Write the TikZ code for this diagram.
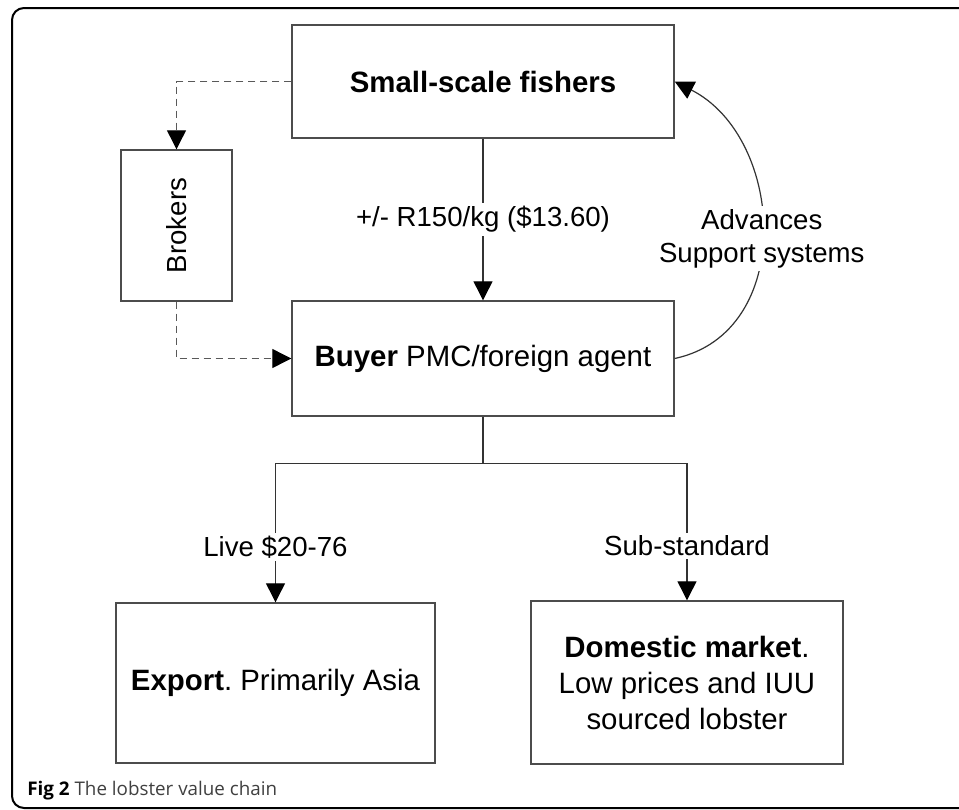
\documentclass[tikz,border=0pt]{standalone}
\usepackage{fontspec}
\setmainfont{Liberation Sans}
\newfontfamily\capfont{Open Sans}
\usetikzlibrary{arrows.meta}
\frenchspacing

\tikzset{
  box/.style={draw=black!70, line width=0.7pt, inner sep=0pt, align=center,
    font=\fontsize{14.7}{18}\selectfont},
  flow/.style={draw=black!80, line width=0.6pt, -{Triangle[length=9.5pt,width=9.5pt,color=black]}},
  dflow/.style={flow, draw=black!65, dash pattern=on 3.5pt off 2.5pt},
  plain/.style={draw=black!80, line width=0.6pt},
  lbl/.style={fill=white, inner sep=1.5pt, align=center,
    font=\fontsize{13.8}{16.5}\selectfont}
}

\begin{document}
\begin{tikzpicture}[x=0.5pt,y=0.5pt]

\clip (0,0) rectangle (959,-809);
\fill[white] (0,0) rectangle (959,-809);
\draw[line width=1pt, rounded corners=6pt] (12,-8) rectangle (990,-808);

\node[box, minimum width=191pt, minimum height=56.5pt] (fishers) at (483,-81.5) {\textbf{Small-scale fishers}};
\node[box, rotate=90, minimum width=75.5pt, minimum height=55.5pt, font=\fontsize{13.8}{16}\selectfont] (brokers) at (176.5,-225.5) {Brokers};
\node[box, minimum width=191pt, minimum height=57.5pt] (buyer) at (483,-358.5) {\textbf{Buyer} PMC/foreign agent};
\node[box, minimum width=159.5pt, minimum height=80pt] (export) at (275.5,-683) {\textbf{Export}. Primarily Asia};
\node[box, minimum width=156pt, minimum height=81.5pt] (domestic) at (687,-682.5) {\textbf{Domestic market}.\\Low prices and IUU\\sourced lobster};

\draw[flow] (fishers) -- node[lbl] {+/- R150/kg (\$13.60)} (buyer);
\draw[dflow] (fishers.west) -| (brokers.east);
\draw[dflow] (brokers.west) |- (buyer.west);
\draw[flow] (buyer.east) to[out=12,in=-27,looseness=1.15] node[lbl,pos=0.48] {Advances\\Support systems} (fishers.east);

\draw[plain] (buyer.south) -- ++(0,-47) coordinate (split);
\draw[flow] (split) -| node[lbl,pos=0.8] {Live \$20-76} (export.north);
\draw[flow] (split) -| node[lbl,pos=0.8] {Sub-standard} (domestic.north);

\node[anchor=west, inner sep=0pt, font=\capfont\fontsize{9.4}{11}\selectfont] (caption) at (27,-791) {\textbf{Fig 2} \textcolor{black!75}{The lobster value chain}};
\end{tikzpicture}
\end{document}
